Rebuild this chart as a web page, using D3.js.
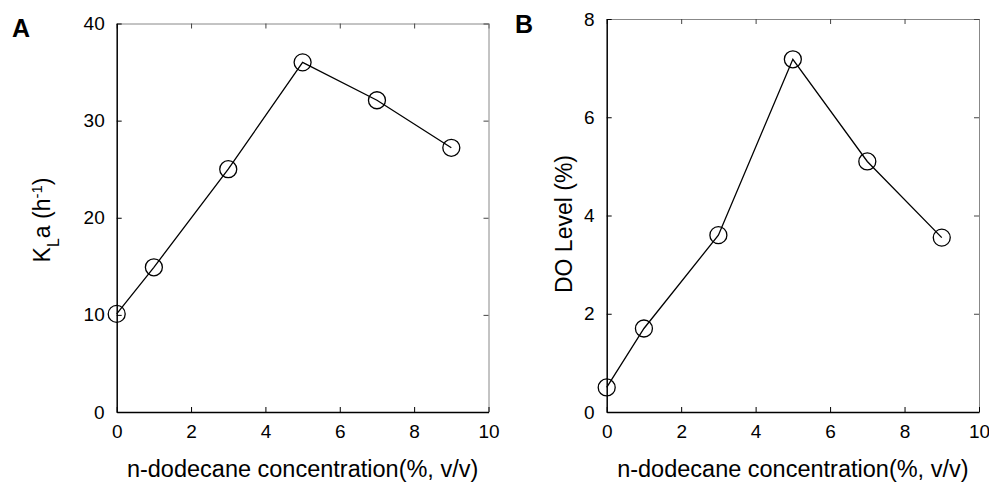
<!DOCTYPE html>
<html>
<head>
<meta charset="utf-8">
<script src="https://cdn.jsdelivr.net/npm/d3@7"></script>
<style>
  body { margin: 0; background: #fff; }
  svg { display: block; font-family: "Liberation Sans", Arial, sans-serif; }
</style>
</head>
<body>
<div id="chart"></div>
<script>
// n-dodecane concentration (%, v/v)
var conc = [0, 1, 3, 5, 7, 9];
// panel A: KLa (h-1)
var klaValues = [10.1, 14.9, 25.0, 36.0, 32.1, 27.2];
// panel B: DO level (%)
var doValues = [0.5, 1.7, 3.6, 7.18, 5.1, 3.55];

var xTicks = [0, 2, 4, 6, 8, 10];
var klaTicks = [0, 10, 20, 30, 40];
var doTicks = [0, 2, 4, 6, 8];

var svgWidth = 989;
var svgHeight = 482;

var svg = d3.select("#chart")
  .append("svg")
  .attr("width", svgWidth)
  .attr("height", svgHeight);

function drawPanel(opt) {
  var xScale = d3.scaleLinear().domain([0, 10]).range([opt.left, opt.right]);
  var yScale = d3.scaleLinear().domain(opt.yDomain).range([opt.bottom, opt.top]);

  var g = svg.append("g");

  // top and right frame (lighter, as in the scan)
  g.append("g")
    .attr("transform", `translate(0,${opt.top})`)
    .call(d3.axisTop(xScale).tickValues(xTicks).tickSizeInner(-5).tickSizeOuter(0).tickFormat(""))
    .call(s => s.select(".domain").attr("stroke", "#888"))
    .call(s => s.selectAll(".tick line").attr("stroke", "#444"));

  g.append("g")
    .attr("transform", `translate(${opt.right},0)`)
    .call(d3.axisRight(yScale).tickValues(opt.yTicks).tickSizeInner(-5).tickSizeOuter(0).tickFormat(""))
    .call(s => s.select(".domain").attr("stroke", "#888"))
    .call(s => s.selectAll(".tick line").attr("stroke", "#444"));

  // bottom axis
  var xAxis = g.append("g")
    .attr("transform", `translate(0,${opt.bottom})`)
    .call(d3.axisBottom(xScale).tickValues(xTicks).tickSizeInner(-5).tickSizeOuter(0).tickPadding(13));

  // left axis
  var yAxis = g.append("g")
    .attr("transform", `translate(${opt.left},0)`)
    .call(d3.axisLeft(yScale).tickValues(opt.yTicks).tickSizeInner(-5).tickSizeOuter(0).tickPadding(12));

  [xAxis, yAxis].forEach(function(a) {
    a.attr("font-size", 19).attr("font-family", "Liberation Sans, Arial, sans-serif");
    a.select(".domain").attr("stroke", "#000").attr("stroke-width", 1.5);
    a.selectAll(".tick line").attr("stroke", "#000");
    a.selectAll(".tick text").attr("fill", "#000");
  });

  var line = d3.line()
    .x((d, i) => xScale(conc[i]))
    .y(d => yScale(d));

  g.append("path")
    .datum(opt.values)
    .attr("d", line)
    .attr("fill", "none")
    .attr("stroke", "#000")
    .attr("stroke-width", 1.3);

  g.append("g")
    .selectAll("circle")
    .data(opt.values)
    .enter()
    .append("circle")
    .attr("cx", (d, i) => xScale(conc[i]))
    .attr("cy", d => yScale(d))
    .attr("r", 8.5)
    .attr("fill", "none")
    .attr("stroke", "#000")
    .attr("stroke-width", 1.3);

  // x axis title
  g.append("text")
    .attr("x", (opt.left + opt.right) / 2)
    .attr("y", 477)
    .attr("text-anchor", "middle")
    .attr("font-size", "23.5px")
    .text("n-dodecane concentration(%, v/v)");

  // panel letter
  g.append("text")
    .attr("x", opt.letterX)
    .attr("y", opt.letterY)
    .attr("font-size", "25px")
    .attr("font-weight", "bold")
    .text(opt.letter);

  return g;
}

var panelA = drawPanel({
  left: 116.7, right: 488.5, top: 23.5, bottom: 412,
  yDomain: [0, 40], yTicks: klaTicks, values: klaValues,
  letter: "A", letterX: 12, letterY: 37
});

var panelB = drawPanel({
  left: 606.7, right: 979, top: 19, bottom: 412,
  yDomain: [0, 8], yTicks: doTicks, values: doValues,
  letter: "B", letterX: 515, letterY: 33
});

// y axis titles
var klaLabel = panelA.append("text")
  .attr("transform", "translate(50,220) rotate(-90)")
  .attr("text-anchor", "middle")
  .attr("font-size", "23px");
klaLabel.append("tspan").text("K");
klaLabel.append("tspan").attr("baseline-shift", "sub").attr("font-size", "16px").text("L");
klaLabel.append("tspan").text("a (h");
klaLabel.append("tspan").attr("baseline-shift", "super").attr("font-size", "15px").text("-1");
klaLabel.append("tspan").text(")");

panelB.append("text")
  .attr("transform", "translate(572,224) rotate(-90)")
  .attr("text-anchor", "middle")
  .attr("font-size", "23px")
  .text("DO Level (%)");
</script>
</body>
</html>
